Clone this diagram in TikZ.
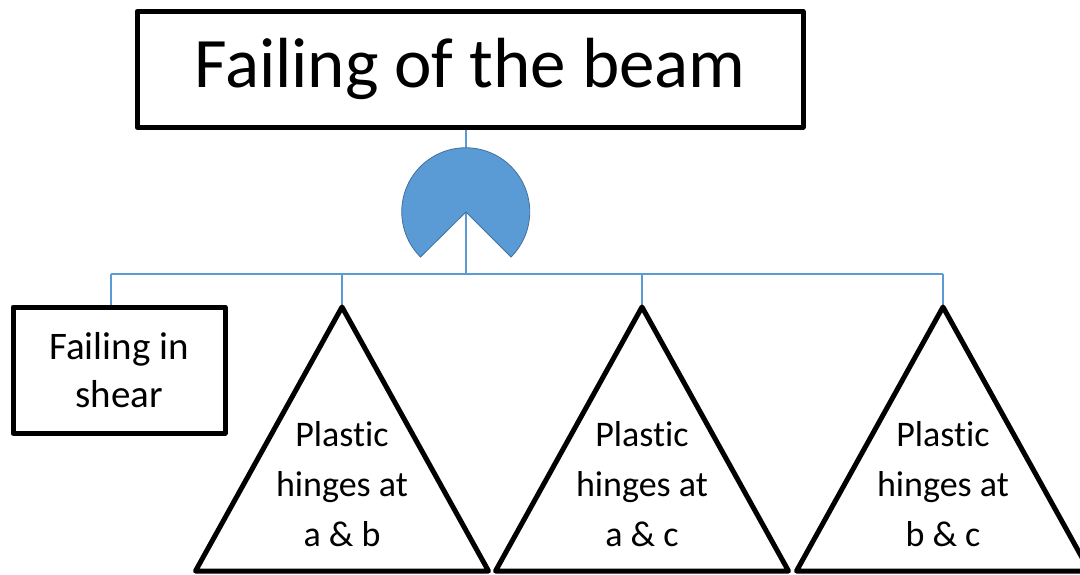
\documentclass[tikz,border=0pt]{standalone}
\usepackage{fontspec}
\setmainfont{Carlito}[Ligatures=NoCommon]
\definecolor{lnblue}{HTML}{5B9BD5}
\definecolor{gateedge}{HTML}{41719C}
\begin{document}
\begin{tikzpicture}[x=1pt,y=-1pt,
  blk/.style={draw=black,line width=5pt,line join=round},
  conn/.style={draw=lnblue,line width=1.5pt},
  lbl/.style={align=center,font=\fontsize{36}{50}\selectfont,inner sep=0pt}]
\useasboundingbox (0,0) rectangle (1080,574);
% top event
\node[blk,minimum width=666pt,minimum height=115.5pt,inner sep=0pt,
      font=\fontsize{71}{84}\selectfont] (top) at (470,69.3) {Failing of the beam};
% shear box
\node[blk,minimum width=212pt,minimum height=126pt,inner sep=0pt,align=center,
      font=\fontsize{39}{48}\selectfont] (shear) at (119,370) {Failing in\\shear};
% coordinates
\coordinate (gtop) at (466,148);
\coordinate (gate) at (466,212);
\coordinate (gbot) at (466,274);
\coordinate (busL) at (111,274);
\coordinate (busR) at (943,274);
\coordinate (t1) at (342,307);
\coordinate (t2) at (642,307);
\coordinate (t3) at (943,307);
% connectors
\draw[conn] (top.south -| gtop) -- (gbot);
\draw[conn] (busL) -- (busR);
\draw[conn] (busL) -- (busL |- shear.north);
\draw[conn] (t1 |- busL) -- (t1);
\draw[conn] (t2 |- busL) -- (t2);
\draw[conn] (t3 |- busL) -- (t3);
% OR gate (pac-man shape)
\filldraw[fill=lnblue,draw=gateedge,line width=0.8pt]
  (gate) -- ++(45,45) arc[start angle=45,end angle=-225,radius=64] -- cycle;
% triangles
\foreach \t in {t1,t2,t3}{
  \draw[blk] (\t) -- ++(146.5,264) -- ++(-293,0) -- cycle;
}
\node[lbl] (p1) at (342,484) {Plastic\\hinges at\\a \& b};
\node[lbl] (p2) at (642,484) {Plastic\\hinges at\\a \& c};
\node[lbl] (p3) at (943,484) {Plastic\\hinges at\\b \& c};
\end{tikzpicture}
\end{document}
